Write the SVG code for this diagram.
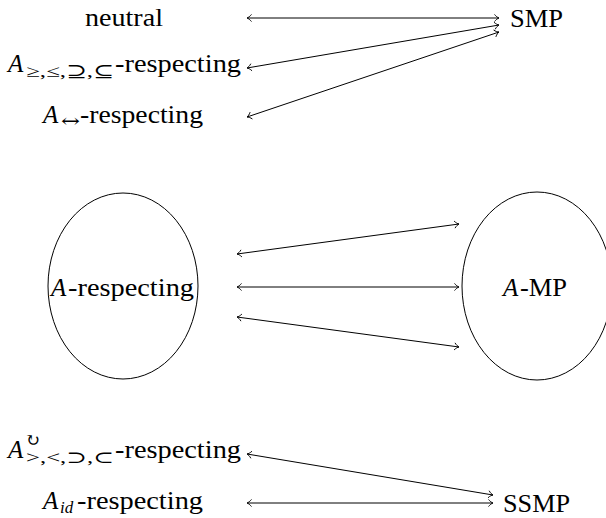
<svg xmlns="http://www.w3.org/2000/svg" width="606" height="518" viewBox="0 0 606 518">
<style>
text{font-family:"Liberation Serif","DejaVu Serif","Times New Roman",Times,serif;font-size:25px;fill:#000}
.it{font-style:italic}
.sub{font-size:17px}
.sym{font-family:"DejaVu Serif","DejaVu Sans",serif;font-size:18px}
.c line{stroke:#000;stroke-width:1;fill:none;marker-start:url(#tip);marker-end:url(#tip)}
ellipse{fill:none;stroke:#000;stroke-width:1}
</style>
<defs>
<marker id="tip" markerUnits="userSpaceOnUse" markerWidth="12" markerHeight="12" viewBox="-6 -6 12 12" refX="0" refY="0" orient="auto-start-reverse" overflow="visible">
<path d="M -4.5 -3.6 C -3 -1.6 -1.2 -0.4 0 0 C -1.2 0.4 -3 1.6 -4.5 3.6" fill="none" stroke="#000" stroke-width="0.9"/>
</marker>
</defs>
<g id="neutral"><text x="85" y="26" textLength="78" lengthAdjust="spacingAndGlyphs" font-family="Liberation Serif, DejaVu Serif, serif">neutral</text></g>
<g id="smp"><text x="510" y="27" textLength="53" lengthAdjust="spacingAndGlyphs" font-family="Liberation Serif, DejaVu Serif, serif">SMP</text></g>
<g id="a-ge-respecting"><text y="72" font-family="Liberation Serif, DejaVu Serif, serif"><tspan class="it" x="8">A</tspan><tspan class="sub" x="26" dy="5" textLength="88" lengthAdjust="spacingAndGlyphs">≥,≤,⊇,⊆</tspan><tspan x="115" dy="-5" textLength="126" lengthAdjust="spacingAndGlyphs">-respecting</tspan></text></g>
<g id="a-leftright-respecting"><text y="123" font-family="Liberation Serif, DejaVu Serif, serif"><tspan class="it" x="43">A</tspan><tspan class="sym" x="61" dy="4" textLength="19" lengthAdjust="spacingAndGlyphs">↔</tspan><tspan x="80" dy="-4" textLength="123" lengthAdjust="spacingAndGlyphs">-respecting</tspan></text></g>
<g id="a-respecting"><ellipse cx="123" cy="286" rx="75" ry="93"/><text y="296" font-family="Liberation Serif, DejaVu Serif, serif"><tspan class="it" x="51">A</tspan><tspan x="68" textLength="126" lengthAdjust="spacingAndGlyphs">-respecting</tspan></text></g>
<g id="a-mp"><ellipse cx="537" cy="286" rx="75" ry="94"/><text y="296" font-family="Liberation Serif, DejaVu Serif, serif"><tspan class="it" x="503">A</tspan><tspan x="520" textLength="47" lengthAdjust="spacingAndGlyphs">-MP</tspan></text></g>
<g id="a-circ-respecting"><text y="458" font-family="Liberation Serif, DejaVu Serif, serif"><tspan class="it" x="8">A</tspan><tspan class="sym" x="25" dy="-12">↻</tspan><tspan class="sub" x="26" dy="17" textLength="88" lengthAdjust="spacingAndGlyphs">&gt;,&lt;,⊃,⊂</tspan><tspan x="115" dy="-5" textLength="126" lengthAdjust="spacingAndGlyphs">-respecting</tspan></text></g>
<g id="a-id-respecting"><text y="509" font-family="Liberation Serif, DejaVu Serif, serif"><tspan class="it" x="43">A</tspan><tspan class="sub it" x="60" dy="4">id</tspan><tspan x="77" dy="-4" textLength="126" lengthAdjust="spacingAndGlyphs">-respecting</tspan></text></g>
<g id="ssmp"><text x="503" y="512" textLength="67" lengthAdjust="spacingAndGlyphs" font-family="Liberation Serif, DejaVu Serif, serif">SSMP</text></g>
<g id="connectors" class="c">
<line x1="247" y1="18" x2="499" y2="18"/>
<line x1="247" y1="68" x2="499" y2="25"/>
<line x1="247" y1="117" x2="499" y2="32"/>
<line x1="237" y1="254" x2="459" y2="224"/>
<line x1="237" y1="287" x2="459" y2="287"/>
<line x1="237" y1="317" x2="459" y2="347"/>
<line x1="247" y1="454" x2="493" y2="495"/>
<line x1="247" y1="503" x2="493" y2="503"/>
</g>
</svg>
